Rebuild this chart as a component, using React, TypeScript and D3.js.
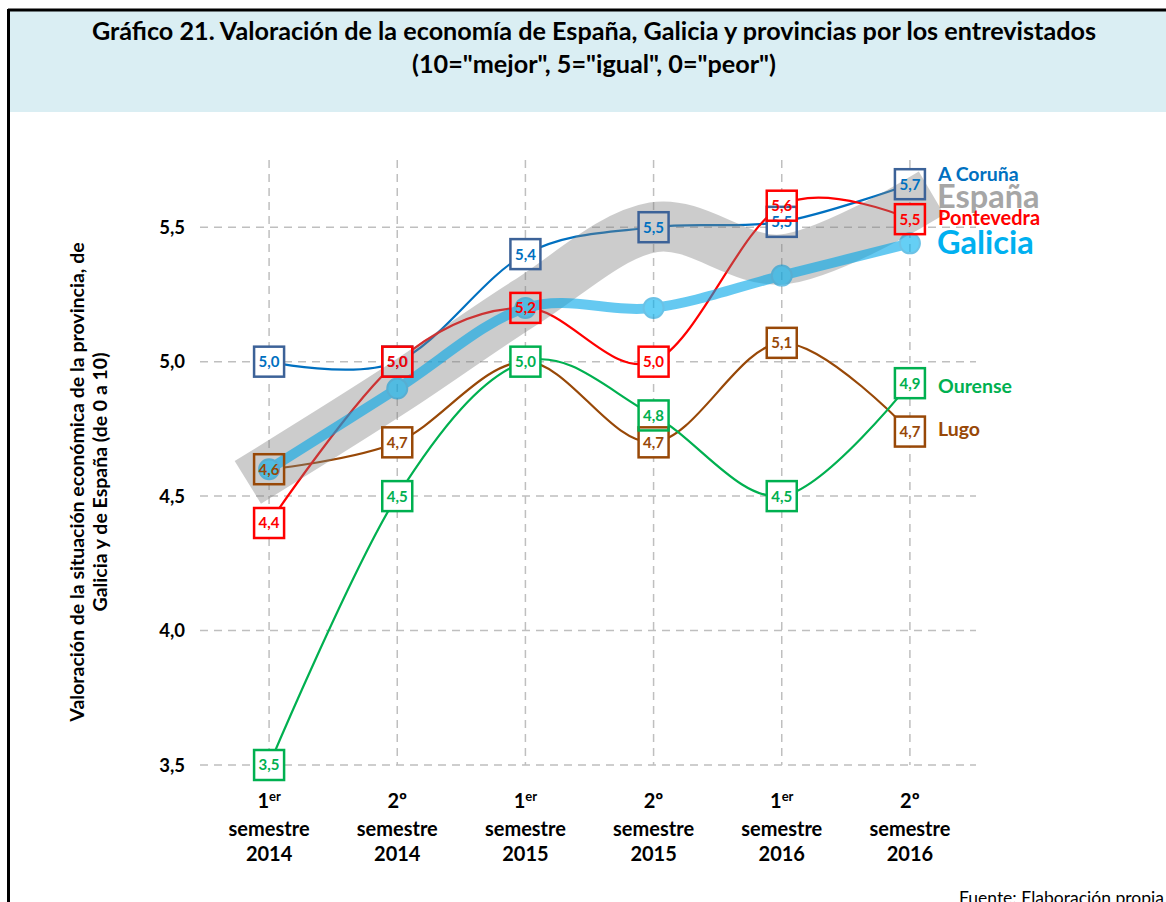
import React from "react";
import * as d3 from "d3";

const categories = ["s1_2014", "s2_2014", "s1_2015", "s2_2015", "s1_2016", "s2_2016"];
const catOrdinal = ["1", "2º", "1", "2º", "1", "2º"];
const catSup = ["er", "", "er", "", "er", ""];
const catYear = ["2014", "2014", "2015", "2015", "2016", "2016"];

const coruna = [5.0, 5.0, 5.4, 5.5, 5.52, 5.66];
const pontevedra = [4.4, 5.0, 5.2, 5.0, 5.58, 5.53];
const lugo = [4.6, 4.7, 5.0, 4.7, 5.07, 4.74];
const ourense = [3.5, 4.5, 5.0, 4.8, 4.5, 4.92];
const galicia = [4.6, 4.9, 5.2, 5.2, 5.32, 5.44];
const espana = [4.6, 4.9, 5.22, 5.5, 5.38, 5.58];

const yTicks = [3.5, 4.0, 4.5, 5.0, 5.5];

const FONT = "Lato, 'Open Sans', 'Noto Sans', sans-serif";

const provinces = [
  { name: "A Coruña", values: coruna, line: "#0070C0", border: "#3C6298", text: "#0070C0" },
  { name: "Lugo", values: lugo, line: "#984807", border: "#984807", text: "#984807" },
  { name: "Ourense", values: ourense, line: "#00B050", border: "#00B050", text: "#00B050" },
  { name: "Pontevedra", values: pontevedra, line: "#FF0000", border: "#FF0000", text: "#FF0000" },
];

const fmt = (v: number) => v.toFixed(1).replace(".", ",");

export default function App() {
  const W = 1166, H = 902;
  const x = d3.scalePoint<string>().domain(categories).range([205, 974]).padding(0.5);
  const y = d3.scaleLinear().domain([3.5, 5.75]).range([765, 160]);
  const line = d3
    .line<number>()
    .x((_, i) => x(categories[i]) as number)
    .y((d) => y(d))
    .curve(d3.curveCardinal.tension(0));

  const box = 30;

  return (
    <svg
      width={W}
      height={H}
      style={{ position: "absolute", left: 0, top: 0, background: "#fff" }}
      fontFamily={FONT}
    >
      {/* header band */}
      <rect x={8} y={10} width={W - 8} height={102} fill="#DAEEF3" />
      <line x1={8} y1={10} x2={W} y2={10} stroke="#000" strokeWidth={3} />
      <line x1={8.5} y1={9} x2={8.5} y2={H} stroke="#000" strokeWidth={3} />
      <text x={594} y={40} textAnchor="middle" fontWeight="bold" fontSize={25.2} fill="#000">
        Gráfico 21. Valoración de la economía de España, Galicia y provincias por los entrevistados
      </text>
      <text x={594} y={73} textAnchor="middle" fontWeight="bold" fontSize={25.2} fill="#000">
        (10="mejor", 5="igual", 0="peor")
      </text>

      {/* gridlines */}
      {yTicks.map((t) => (
        <line key={"h" + t} x1={200} x2={976} y1={y(t)} y2={y(t)} stroke="#BFBFBF" strokeWidth={1.5} strokeDasharray="8,6" />
      ))}
      {categories.map((c) => (
        <line key={"v" + c} x1={x(c)} x2={x(c)} y1={160} y2={765} stroke="#BFBFBF" strokeWidth={1.5} strokeDasharray="8,6" />
      ))}

      {/* y tick labels */}
      {yTicks.map((t) => (
        <text key={"yt" + t} x={185} y={y(t)} dy="0.36em" textAnchor="end" fontWeight="bold" fontSize={18.5} fill="#000">
          {fmt(t)}
        </text>
      ))}

      {/* y axis title */}
      <g transform="translate(84,482) rotate(-90)">
        <text x={0} y={0} textAnchor="middle" fontWeight="bold" fontSize={19.5} fill="#000">
          Valoración de la situación económica de la provincia, de
        </text>
        <text x={0} y={23} textAnchor="middle" fontWeight="bold" fontSize={19.5} fill="#000">
          Galicia y de España (de 0 a 10)
        </text>
      </g>

      {/* x labels */}
      {categories.map((c, i) => (
        <g key={"xl" + c} fontWeight="bold" fontSize={20} fill="#000">
          <text x={x(c)} y={808} textAnchor="middle">
            {catOrdinal[i]}
            {catSup[i] ? (
              <tspan fontSize={13} dy={-7}>
                {catSup[i]}
              </tspan>
            ) : null}
          </text>
          <text x={x(c)} y={836} textAnchor="middle">semestre</text>
          <text x={x(c)} y={861} textAnchor="middle">{catYear[i]}</text>
        </g>
      ))}

      {/* province lines */}
      {provinces.map((p) => (
        <path key={"l" + p.name} d={line(p.values) || ""} fill="none" stroke={p.line} strokeWidth={2.2} />
      ))}

      {/* box fills */}
      {provinces.map((p) =>
        p.values.map((v, i) => (
          <rect
            key={"bf" + p.name + i}
            x={(x(categories[i]) as number) - box / 2}
            y={y(v) - box / 2}
            width={box}
            height={box}
            fill="#fff"
          />
        ))
      )}

      {/* España band */}
      <path
        d={line(espana) || ""}
        fill="none"
        stroke="#7F7F7F"
        strokeOpacity={0.4}
        strokeWidth={50}
        strokeLinecap="square"
      />

      {/* Galicia */}
      <g opacity={0.6}>
        <path d={line(galicia) || ""} fill="none" stroke="#00A6E8" strokeWidth={10} strokeLinecap="round" />
        {galicia.map((v, i) => (
          <circle key={"gc" + i} cx={x(categories[i])} cy={y(v)} r={10} fill="#00B0F0" stroke="#0A9BD6" strokeWidth={2} />
        ))}
      </g>

      {/* box borders & labels */}
      {provinces.map((p) =>
        p.values.map((v, i) => {
          const cx = x(categories[i]) as number;
          const cy = y(v);
          const covered = p.name === "Lugo" && i === 2;
          if (covered) return null;
          return (
            <g key={"bb" + p.name + i}>
              <rect x={cx - box / 2} y={cy - box / 2} width={box} height={box} fill="none" stroke={p.border} strokeWidth={2.5} />
              <text x={cx} y={cy} dy="0.36em" textAnchor="middle" fontWeight="bold" fontSize={15} fill={p.text}>
                {fmt(v)}
              </text>
            </g>
          );
        })
      )}

      {/* series labels */}
      <g fontWeight="bold">
        <text x={938} y={181} fontSize={19.5} fill="#0070C0">A Coruña</text>
        <text x={937} y={208} fontSize={32.5} fill="#A6A6A6">España</text>
        <text x={938} y={225} fontSize={20} fill="#FF0000">Pontevedra</text>
        <text x={937} y={254} fontSize={32.5} fill="#00B0F0">Galicia</text>
        <text x={938} y={393} fontSize={19.5} fill="#00B050">Ourense</text>
        <text x={938} y={436} fontSize={19.5} fill="#984807">Lugo</text>
      </g>

      <text x={959} y={904} fontSize={17.5} fill="#000">Fuente: Elaboración propia</text>
    </svg>
  );
}
